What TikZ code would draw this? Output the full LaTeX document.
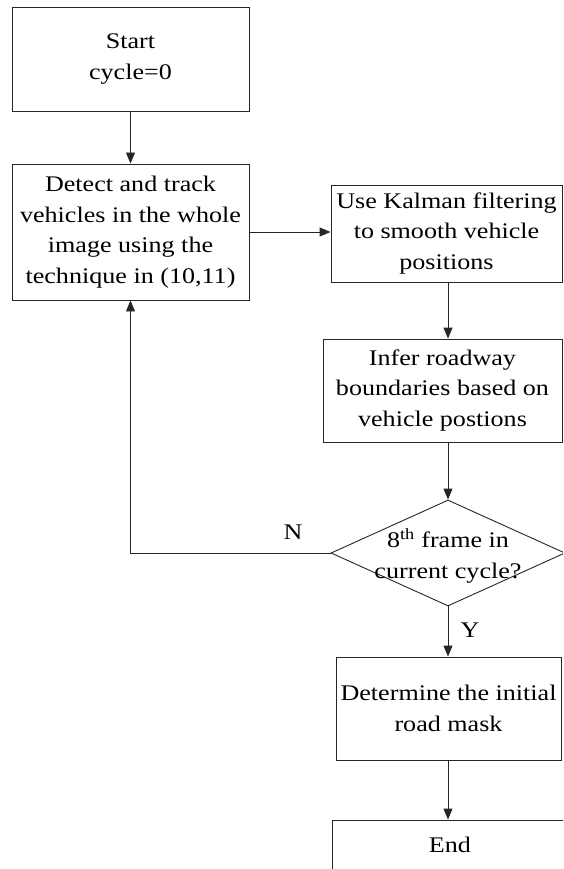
\documentclass[tikz,border=0pt]{standalone}
\usepackage{fontspec}
\setmainfont[FakeStretch=1.17]{Liberation Serif}
\usetikzlibrary{arrows.meta,shapes.geometric}

\begin{document}
\begin{tikzpicture}[
  x=1pt, y=-1pt,
  every node/.style={font=\fontsize{22.3}{30.7}\selectfont, inner sep=0pt},
  box/.style={draw=black!85, line width=0.9pt, rectangle, align=center},
  decision/.style={draw=black!85, line width=0.9pt, diamond},
  link/.style={draw=black!85, line width=0.9pt, -{Triangle[length=11pt,width=9pt]}},
  tag/.style={}
]
\useasboundingbox (0,0) rectangle (563,869);
\clip (0,0) rectangle (563,869);

% process boxes
\node[box, minimum width=237, minimum height=104] (start) at (130.5,59) {Start\\cycle=0};
\node[box, minimum width=237, minimum height=136] (detect) at (130.5,232)
  {Detect and track\\vehicles in the whole\\image using the\\technique in (10,11)};
\node[box, minimum width=231, minimum height=97] (kalman) at (446.5,233.5)
  {Use Kalman filtering\\to smooth vehicle\\positions};
\node[box, minimum width=239, minimum height=103] (infer) at (442.5,390.5)
  {Infer roadway\\boundaries based on\\vehicle postions};

% decision
\node[decision, minimum width=234, minimum height=106] (dec) at (448,553) {};
\node[align=center] (dectext) at (448,556) {8\textsuperscript{th} frame in\\current cycle?};

\node[box, minimum width=225, minimum height=103] (determine) at (448.5,708.5)
  {Determine the initial\\road mask};
\node[box, minimum width=236, minimum height=50] (end) at (450,845) {End};

% connectors
\draw[link] (start.south) -- (detect.north);
\draw[link] (detect.east) -- (detect.east -| kalman.west);
\draw[link] (kalman.south -| dec.north) -- (infer.north -| dec.north);
\draw[link] (infer.south -| dec.north) -- (dec.north);
\draw[link] (dec.south) -- (determine.north -| dec.south);
\draw[link] (determine.south -| dec.south) -- (end.north -| dec.south);
\draw[link] (dec.west) -| (detect.south);

% branch labels
\node[tag] (nlabel) at (293,532) {N};
\node[tag] (ylabel) at (470,630) {Y};
\end{tikzpicture}
\end{document}
